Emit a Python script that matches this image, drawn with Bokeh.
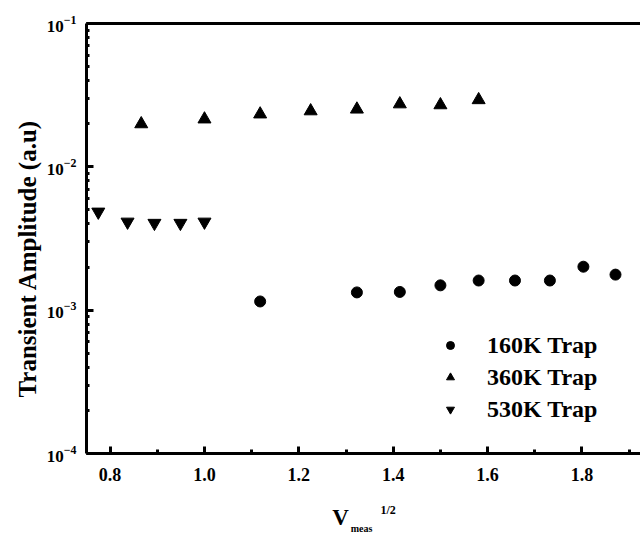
from bokeh.plotting import figure
from bokeh.layouts import column
from bokeh.models import (LinearAxis, SingleIntervalTicker, PrintfTickFormatter, FixedTicker,
                          Legend, LegendItem, Range1d, Title)
from bokeh.core.properties import value
from bokeh.embed import file_html
from bokeh.resources import INLINE

# ---- data ----
x_160 = [1.118, 1.323, 1.414, 1.500, 1.581, 1.658, 1.732, 1.803, 1.871]
y_160 = [0.00115, 0.00133, 0.00134, 0.00149, 0.00161, 0.00161, 0.00161, 0.00201, 0.00177]

x_360 = [0.866, 1.000, 1.118, 1.225, 1.323, 1.414, 1.500, 1.581]
y_360 = [0.0199, 0.0215, 0.0233, 0.0245, 0.0252, 0.0274, 0.0270, 0.0293]

x_530 = [0.775, 0.837, 0.894, 0.949, 1.000]
y_530 = [0.00485, 0.00413, 0.00405, 0.00405, 0.00413]

labels = ["160K Trap", "360K Trap", "530K Trap"]
x_title = "V"
x_title_sub = "meas"
x_title_sup = "1/2"
y_title = "Transient Amplitude (a.u)"

FONT = "Liberation Serif"
X_RANGE = Range1d(0.75, 1.924)

p = figure(width=640, height=484, output_backend="svg", toolbar_location=None,
           y_axis_type="log", x_range=X_RANGE, y_range=Range1d(1e-4, 1e-1),
           min_border_left=86, min_border_right=0, min_border_top=23, min_border_bottom=31)
p.outline_line_color = None
p.grid.visible = False
p.background_fill_color = "white"

r1 = p.scatter(x_160, y_160, marker="circle", size=11, color="black")
r2 = p.scatter(x_360, y_360, marker="triangle", size=13, color="black")
r3 = p.scatter(x_530, y_530, marker="inverted_triangle", size=13, color="black")

# x axis
xa = p.xaxis[0]
xa.ticker = SingleIntervalTicker(interval=0.2, num_minor_ticks=2)
xa.formatter = PrintfTickFormatter(format="%.1f")
xa.axis_line_width = 3
xa.major_tick_in = 7
xa.major_tick_out = 0
xa.minor_tick_in = 4
xa.minor_tick_out = 0
xa.major_tick_line_width = 3
xa.minor_tick_line_width = 3
xa.major_label_text_font = FONT
xa.major_label_text_font_style = "bold"
xa.major_label_text_font_size = "18px"
xa.major_label_text_color = "black"
xa.major_label_standoff = 14

# y axis
ya = p.yaxis[0]
ya.axis_line_width = 3
ya.major_tick_in = 7
ya.major_tick_out = 0
ya.minor_tick_in = 3
ya.minor_tick_out = 0
ya.major_tick_line_width = 3
ya.minor_tick_line_width = 3
ya.major_label_text_font = FONT
ya.major_label_text_font_style = "bold"
ya.major_label_text_font_size = "17px"
ya.major_label_text_color = "black"
ya.major_label_standoff = 10

# y title (starts 56 px above the bottom of the frame)
p.add_layout(Title(text=y_title, align="left", offset=56, standoff=6,
                   text_font=FONT, text_font_style="bold", text_font_size="25px",
                   text_color="black"), "left")

# top border line
top = LinearAxis(ticker=FixedTicker(ticks=[]), major_tick_in=0, major_tick_out=0,
                 minor_tick_in=0, minor_tick_out=0, axis_line_width=3)
p.add_layout(top, "above")

# legend
legend = Legend(items=[LegendItem(label=labels[0], renderers=[r1]),
                       LegendItem(label=labels[1], renderers=[r2]),
                       LegendItem(label=labels[2], renderers=[r3])],
                location=(354, 28), border_line_color=None, background_fill_alpha=0,
                label_text_font=FONT, label_text_font_style="bold",
                label_text_font_size="24px", label_text_color="black",
                glyph_width=20, label_standoff=27,
                label_height=32, glyph_height=32, spacing=0, padding=10, margin=0)
p.add_layout(legend, "center")

# x title strip (shares the x range; y range in pixels of the strip)
H2 = 51
p2 = figure(width=640, height=H2, output_backend="svg", toolbar_location=None,
            x_range=X_RANGE, y_range=Range1d(0, H2),
            min_border_left=86, min_border_right=0, min_border_top=0, min_border_bottom=0,
            x_axis_location=None, y_axis_location=None)
p2.outline_line_color = None
p2.grid.visible = False

p2.text(x=[1.271], y=[18], text=[x_title], text_font=value(FONT), text_font_style="bold",
        text_font_size="23px", text_baseline="middle", text_color="black")
p2.text(x=[1.310], y=[7], text=[x_title_sub], text_font=value(FONT), text_font_style="bold",
        text_font_size="10px", text_baseline="middle", text_color="black")
p2.text(x=[1.373], y=[26], text=[x_title_sup], text_font=value(FONT), text_font_style="bold",
        text_font_size="12px", text_baseline="middle", text_color="black")

layout = column(p, p2, spacing=0)
open("out.html", "w").write(file_html(layout, INLINE))
